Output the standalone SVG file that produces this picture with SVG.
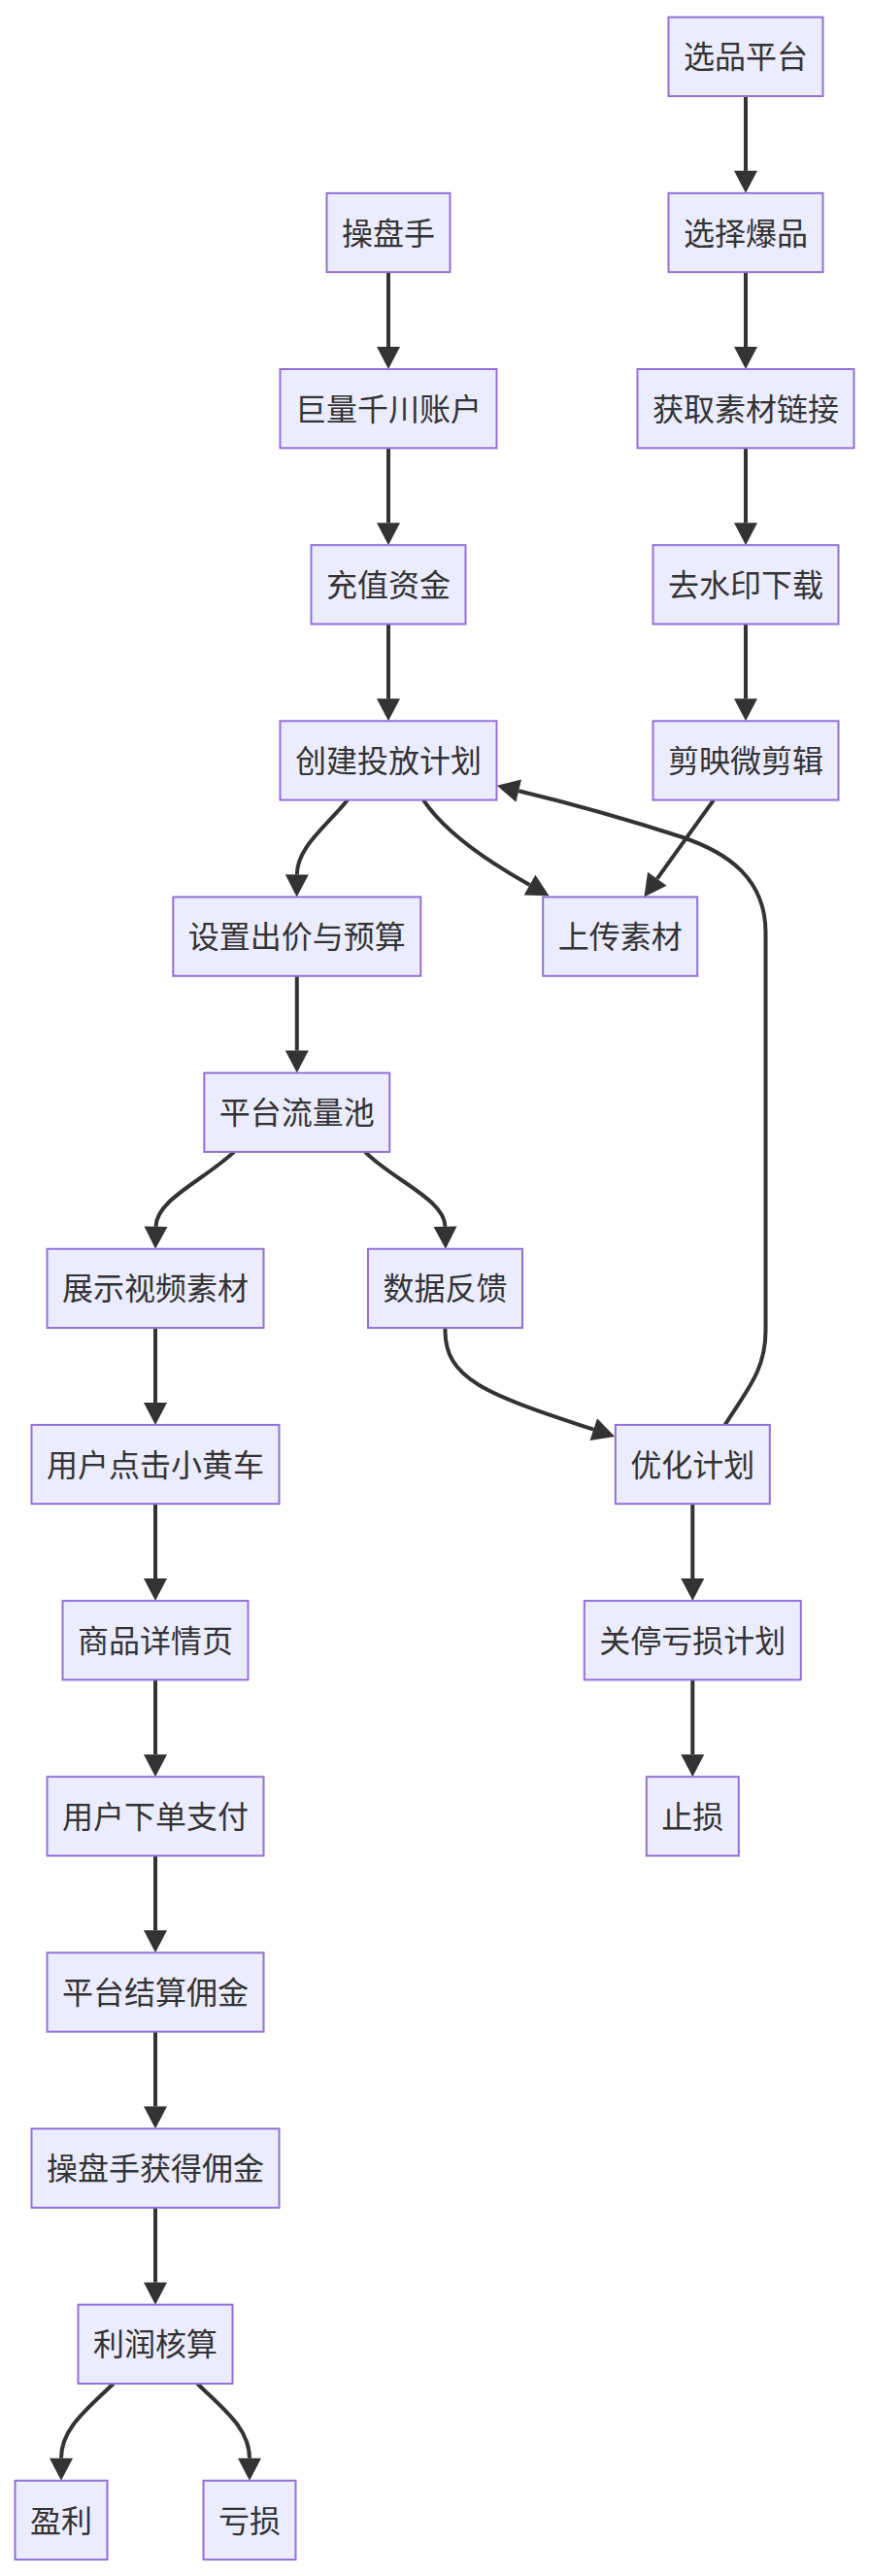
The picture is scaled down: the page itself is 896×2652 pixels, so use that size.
<svg xmlns="http://www.w3.org/2000/svg" width="896" height="2652" viewBox="0 0 896 2652">
<style>
.node rect{fill:#ECECFF;stroke:#9370DB;stroke-width:2}
.node text{font-family:"Noto Sans CJK SC","Noto Sans",sans-serif;font-size:32px;fill:#333333;text-anchor:middle}
.edge{fill:none;stroke:#333333;stroke-width:4;marker-end:url(#arrow)}
</style>
<defs>
<marker id="arrow" markerUnits="userSpaceOnUse" markerWidth="23" markerHeight="24" refX="0" refY="12" orient="auto" overflow="visible">
<path d="M0,0 L23,12 L0,24 Z" fill="#333333"/>
</marker>
</defs>
<rect width="896" height="2652" fill="#ffffff"/>
<g id="connectors">
<path class="edge" d="M768,99 L768,175.85"/>
<path class="edge" d="M768,280.15 L768,357"/>
<path class="edge" d="M768,461.3 L768,538.15"/>
<path class="edge" d="M768,642.45 L768,719.3"/>
<path class="edge" d="M735,823.6 L676.8,904.7"/>
<path class="edge" d="M400,280.15 L400,357"/>
<path class="edge" d="M400,461.3 L400,538.15"/>
<path class="edge" d="M400,642.45 L400,719.3"/>
<path class="edge" d="M358,823.6 C335,852 306,872 305.8,900.45"/>
<path class="edge" d="M436,823.6 C455,852 490,880 545.5,911.1"/>
<path class="edge" d="M305.8,1004.75 L305.8,1081.6"/>
<path class="edge" d="M241,1185.9 C210,1215 161,1235 160.5,1262.75"/>
<path class="edge" d="M376,1185.9 C405,1215 458,1235 458.5,1262.75"/>
<path class="edge" d="M160,1367.05 L160,1443.9"/>
<path class="edge" d="M458.5,1367.05 C457,1420 500,1435 611.3,1471.7"/>
<path class="edge" d="M746.7,1466.9 C770,1430 788.5,1410 788.5,1370 L788.5,960 C788.5,905 750,878 703,862 C660,848 600,830 534.2,814.2"/>
<path class="edge" d="M713.3,1548.2 L713.3,1625.05"/>
<path class="edge" d="M713.3,1729.35 L713.3,1806.2"/>
<path class="edge" d="M160,1548.2 L160,1625.05"/>
<path class="edge" d="M160,1729.35 L160,1806.2"/>
<path class="edge" d="M160,1910.5 L160,1987.35"/>
<path class="edge" d="M160,2091.65 L160,2168.5"/>
<path class="edge" d="M160,2272.8 L160,2349.65"/>
<path class="edge" d="M116.7,2453.95 C90,2480 63,2500 63,2530.8"/>
<path class="edge" d="M203.3,2453.95 C230,2480 257,2500 257,2530.8"/>
</g>
<g id="n1" class="node"><rect x="688.5" y="17.7" width="159" height="81.3"/><text x="768" y="70.4">选品平台</text></g>
<g id="n2" class="node"><rect x="688.5" y="198.85" width="159" height="81.3"/><text x="768" y="251.55">选择爆品</text></g>
<g id="n3" class="node"><rect x="656.5" y="380" width="223" height="81.3"/><text x="768" y="432.7">获取素材链接</text></g>
<g id="n4" class="node"><rect x="672.5" y="561.15" width="191" height="81.3"/><text x="768" y="613.85">去水印下载</text></g>
<g id="n5" class="node"><rect x="672.5" y="742.3" width="191" height="81.3"/><text x="768" y="795">剪映微剪辑</text></g>
<g id="n6" class="node"><rect x="336.5" y="198.85" width="127" height="81.3"/><text x="400" y="251.55">操盘手</text></g>
<g id="n7" class="node"><rect x="288.5" y="380" width="223" height="81.3"/><text x="400" y="432.7">巨量千川账户</text></g>
<g id="n8" class="node"><rect x="320.5" y="561.15" width="159" height="81.3"/><text x="400" y="613.85">充值资金</text></g>
<g id="n9" class="node"><rect x="288.5" y="742.3" width="223" height="81.3"/><text x="400" y="795">创建投放计划</text></g>
<g id="n10" class="node"><rect x="178.3" y="923.45" width="255" height="81.3"/><text x="305.8" y="976.15">设置出价与预算</text></g>
<g id="n11" class="node"><rect x="559.2" y="923.45" width="159" height="81.3"/><text x="638.7" y="976.15">上传素材</text></g>
<g id="n12" class="node"><rect x="210.3" y="1104.6" width="191" height="81.3"/><text x="305.8" y="1157.3">平台流量池</text></g>
<g id="n13" class="node"><rect x="48.5" y="1285.75" width="223" height="81.3"/><text x="160" y="1338.45">展示视频素材</text></g>
<g id="n14" class="node"><rect x="379" y="1285.75" width="159" height="81.3"/><text x="458.5" y="1338.45">数据反馈</text></g>
<g id="n15" class="node"><rect x="32.5" y="1466.9" width="255" height="81.3"/><text x="160" y="1519.6">用户点击小黄车</text></g>
<g id="n16" class="node"><rect x="633.8" y="1466.9" width="159" height="81.3"/><text x="713.3" y="1519.6">优化计划</text></g>
<g id="n17" class="node"><rect x="64.5" y="1648.05" width="191" height="81.3"/><text x="160" y="1700.75">商品详情页</text></g>
<g id="n18" class="node"><rect x="601.8" y="1648.05" width="223" height="81.3"/><text x="713.3" y="1700.75">关停亏损计划</text></g>
<g id="n19" class="node"><rect x="48.5" y="1829.2" width="223" height="81.3"/><text x="160" y="1881.9">用户下单支付</text></g>
<g id="n20" class="node"><rect x="665.8" y="1829.2" width="95" height="81.3"/><text x="713.3" y="1881.9">止损</text></g>
<g id="n21" class="node"><rect x="48.5" y="2010.35" width="223" height="81.3"/><text x="160" y="2063.05">平台结算佣金</text></g>
<g id="n22" class="node"><rect x="32.5" y="2191.5" width="255" height="81.3"/><text x="160" y="2244.2">操盘手获得佣金</text></g>
<g id="n23" class="node"><rect x="80.5" y="2372.65" width="159" height="81.3"/><text x="160" y="2425.35">利润核算</text></g>
<g id="n24" class="node"><rect x="15.5" y="2553.8" width="95" height="81.3"/><text x="63" y="2606.5">盈利</text></g>
<g id="n25" class="node"><rect x="209.5" y="2553.8" width="95" height="81.3"/><text x="257" y="2606.5">亏损</text></g>
</svg>
